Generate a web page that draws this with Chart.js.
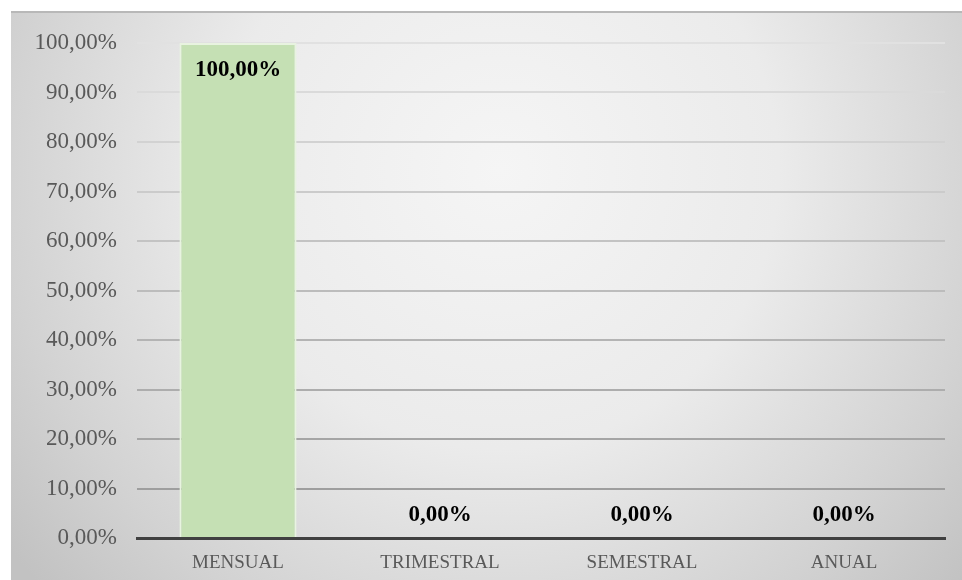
<!DOCTYPE html>
<html>
<head>
<meta charset="utf-8">
<script src="https://cdn.jsdelivr.net/npm/chart.js@4"></script>
<style>
html,body{margin:0;padding:0;background:#fff;}
#wrap{width:962px;height:580px;position:relative;}
</style>
</head>
<body>
<div id="wrap"><canvas id="c" width="962" height="580"></canvas></div>
<script>
const categories = ["MENSUAL", "TRIMESTRAL", "SEMESTRAL", "ANUAL"];
const values = [100, 0, 0, 0];
const yTicks = [0, 10, 20, 30, 40, 50, 60, 70, 80, 90, 100];

const fmt = v => v.toFixed(2).replace('.', ',') + '%';

const bgPlugin = {
  id: 'bg',
  beforeDraw(chart) {
    const ctx = chart.ctx;
    ctx.save();
    ctx.fillStyle = '#ffffff';
    ctx.fillRect(0, 0, chart.width, chart.height);
    const g = ctx.createRadialGradient(500, 170, 0, 500, 170, 620);
    g.addColorStop(0, '#f5f5f5');
    g.addColorStop(0.45, '#ebebeb');
    g.addColorStop(0.8, '#d2d2d2');
    g.addColorStop(1, '#c2c2c2');
    ctx.fillStyle = g;
    ctx.fillRect(11, 11, chart.width - 11, chart.height - 11);
    ctx.fillStyle = '#b8b8b8';
    ctx.fillRect(11, 11, chart.width - 11, 2);
    ctx.restore();
  }
};

const labelPlugin = {
  id: 'dlabels',
  afterDatasetsDraw(chart) {
    const ctx = chart.ctx;
    const meta = chart.getDatasetMeta(0);
    ctx.save();
    ctx.font = 'bold 23px "Liberation Serif", "Times New Roman", serif';
    ctx.fillStyle = '#000000';
    ctx.textAlign = 'center';
    ctx.textBaseline = 'middle';
    meta.data.forEach((bar, i) => {
      const v = values[i];
      const y = v >= 50 ? bar.y + 27 : bar.base - 23;
      ctx.fillText(fmt(v), bar.x, y);
    });
    ctx.restore();
  }
};

new Chart(document.getElementById('c'), {
  type: 'bar',
  data: {
    labels: categories,
    datasets: [{
      data: values,
      backgroundColor: '#c5e0b4',
      borderColor: '#e8f3e0',
      borderWidth: 2,
      borderSkipped: 'bottom',
      categoryPercentage: 1,
      barPercentage: 0.58
    }]
  },
  options: {
    responsive: false,
    animation: false,
    devicePixelRatio: 1,
    layout: { padding: { left: 0, top: 43, right: 17, bottom: 0 } },
    plugins: { legend: { display: false }, tooltip: { enabled: false } },
    scales: {
      x: {
        grid: { display: false, drawTicks: false },
        border: { display: true, color: '#404040', width: 3, z: 1 },
        ticks: {
          color: '#595959',
          padding: 14,
          font: { family: '"Liberation Serif", "Times New Roman", serif', size: 19 }
        },
        afterFit(scale) { scale.height = 42; }
      },
      y: {
        min: 0,
        max: 100,
        afterBuildTicks(scale) { scale.ticks = yTicks.map(v => ({ value: v })); },
        grid: {
          drawTicks: false,
          lineWidth: 2,
          color(ctx) {
            const v = ctx.tick ? ctx.tick.value : 0;
            if (v === 0) return 'rgba(0,0,0,0)';
            const c = Math.round(150 + v * 0.75);
            return `rgb(${c},${c},${c})`;
          }
        },
        border: { display: false },
        ticks: {
          color: '#595959',
          padding: 20,
          callback: v => fmt(v),
          font: { family: '"Liberation Serif", "Times New Roman", serif', size: 23 }
        },
        afterFit(scale) { scale.width = 137; }
      }
    }
  },
  plugins: [bgPlugin, labelPlugin]
});
</script>
</body>
</html>
